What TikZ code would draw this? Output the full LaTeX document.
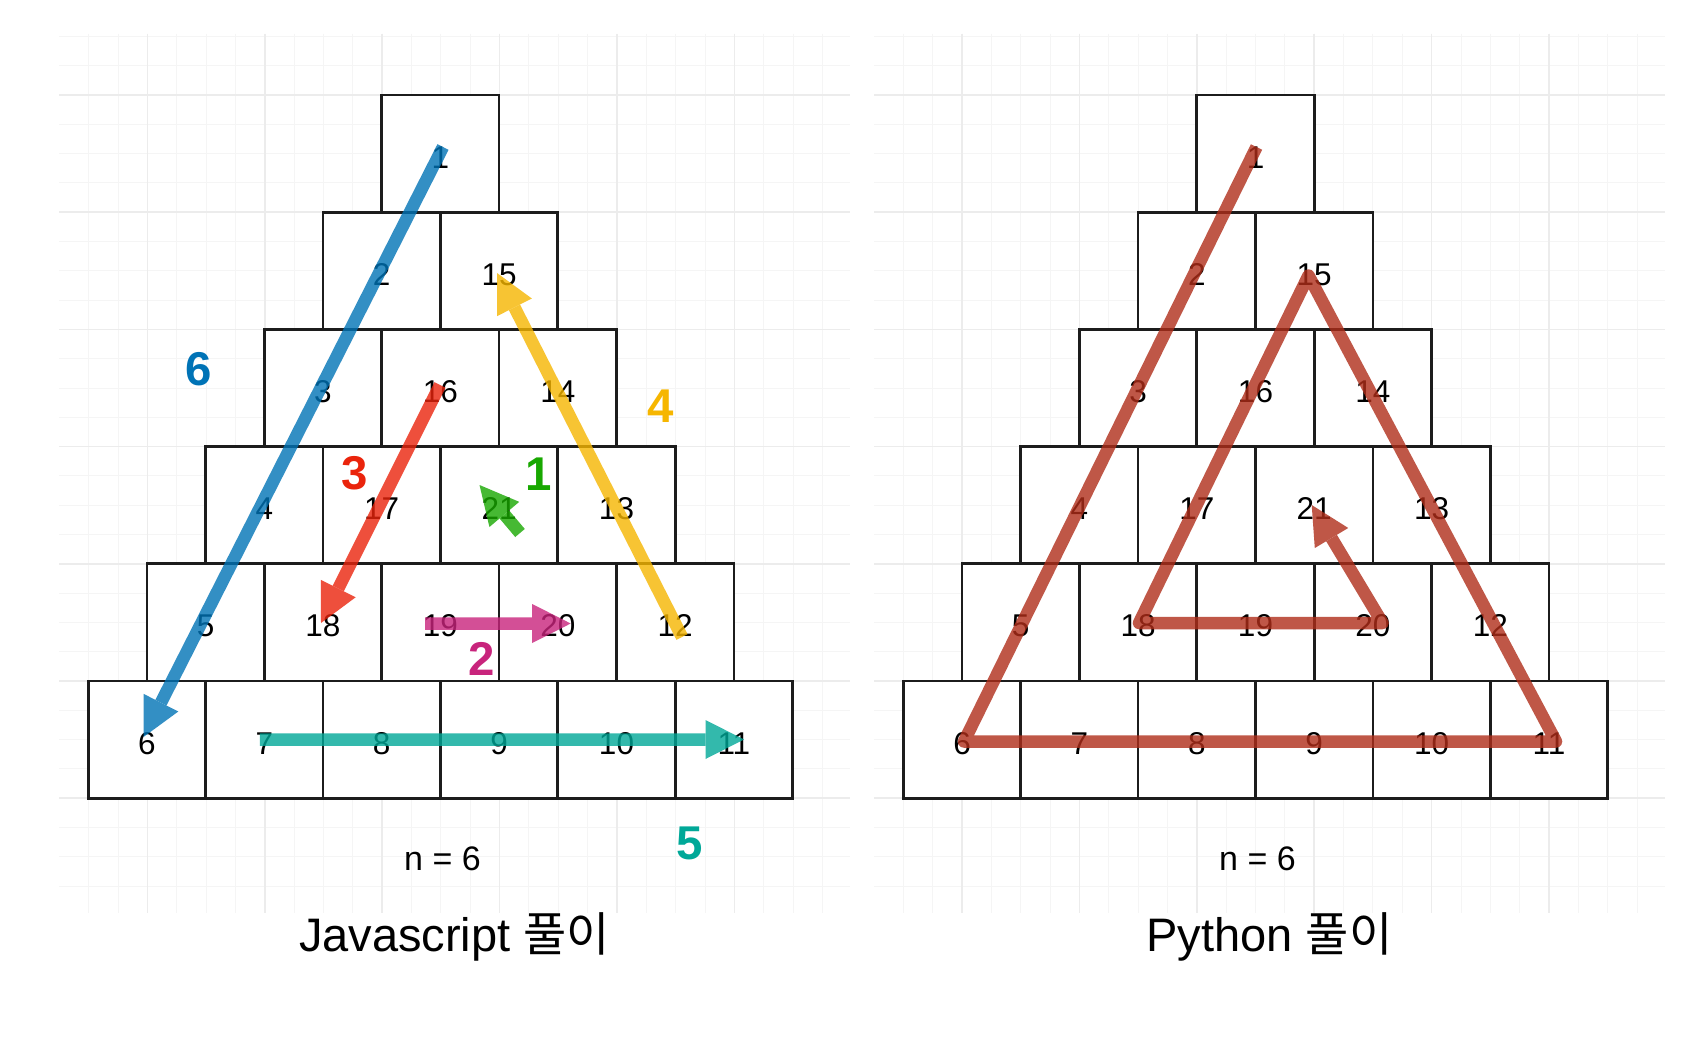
\documentclass[tikz,border=0pt]{standalone}
\usepackage{fontspec}
\setmainfont{Liberation Sans}
\newfontfamily\krfont{Noto Sans CJK KR}
\usetikzlibrary{arrows.meta}
\definecolor{gmaj}{RGB}{236,236,236}
\definecolor{gmin}{RGB}{245,245,245}
\definecolor{tileline}{RGB}{28,28,28}
\definecolor{cblue}{RGB}{0,115,182}
\definecolor{cyellow}{RGB}{246,182,0}
\definecolor{cred}{RGB}{234,36,12}
\definecolor{cgreen}{RGB}{24,168,0}
\definecolor{cmag}{RGB}{200,36,124}
\definecolor{cteal}{RGB}{0,168,152}
\definecolor{cpy}{RGB}{175,45,25}
\tikzset{
  tile/.style={draw=tileline, fill=white, line width=1.35pt, minimum width=58.7pt,
    minimum height=58.6pt, inner sep=0pt, text height=14.5pt, text depth=0pt,
    font=\fontsize{15.75pt}{18pt}\selectfont},
  headtip/.style={-{Triangle[length=19.25pt,width=19.5pt,line width=0pt]}},
  mov/.style={line width=6.25pt, headtip},
  lab/.style={font=\bfseries\fontsize{23.7pt}{28pt}\selectfont, inner sep=0pt},
  capt/.style={font=\fontsize{17pt}{20pt}\selectfont, inner sep=0pt},
  ttl/.style={font=\fontsize{23.5pt}{28pt}\selectfont, inner sep=0pt, anchor=base},
  gridmin/.style={draw=gmin, line width=0.5pt},
  gridmaj/.style={draw=gmaj, line width=0.8pt},
}
\newcommand\pyrdraw[2]{%
  \foreach \r/\lst in {1/{1},2/{2,15},3/{3,16,14},4/{4,17,21,13},5/{5,18,19,20,12},6/{6,7,8,9,10,11}}{
    \foreach \n [count=\i] in \lst {
      \node[tile] (#1\n) at ({#2+(\i-(\r+1)/2)*117.4},{95+(\r-0.5)*117.2}) {\n};
    }
  }
}
\begin{document}
\begin{tikzpicture}[x=0.5pt,y=-0.5pt]
\fill[white] (0,0) rectangle (1708,1048);
% grid panels
\foreach \ox in {0,814.7}{
  \foreach \k in {1,...,26}{
    \draw[gridmin] (59.3+29.35*\k+\ox,34) -- (59.3+29.35*\k+\ox,913);
  }
  \foreach \j in {-2,...,27}{
    \draw[gridmin] (59.3+\ox,95+29.3*\j) -- (850+\ox,95+29.3*\j);
  }
  \foreach \k in {3,7,...,23}{
    \draw[gridmaj] (59.3+29.35*\k+\ox,34) -- (59.3+29.35*\k+\ox,913);
  }
  \foreach \j in {0,4,...,24}{
    \draw[gridmaj] (59.3+\ox,95+29.3*\j) -- (850+\ox,95+29.3*\j);
  }
}
% pyramids
\pyrdraw{L}{440.4}
\pyrdraw{R}{1255.5}
% Javascript arrows
\coordinate (b1) at ([shift={(2.6,-6.6)}]L1.center);
\coordinate (b2) at ([shift={(-3.4,-2.6)}]L6.center);
\coordinate (y1) at ([shift={(6.8,14.6)}]L12.center);
\coordinate (y2) at ([shift={(-2.1,2.2)}]L15.center);
\coordinate (r1) at ([shift={(-0.4,-3)}]L16.center);
\coordinate (r2) at ([shift={(-2,0.6)}]L18.center);
\coordinate (g1) at ([shift={(20.9,27.8)}]L21.center);
\coordinate (g2) at ([shift={(-19.6,-20.2)}]L21.center);
\coordinate (m1) at ([shift={(-15.4,1.1)}]L19.center);
\coordinate (m2) at ([shift={(12.9,1.1)}]L20.center);
\coordinate (t1) at ([shift={(-4.5,-0.1)}]L7.center);
\coordinate (t2) at ([shift={(10.1,-0.1)}]L11.center);
\begin{scope}[transparency group, opacity=0.8]
  \draw[mov, cgreen] (g1) -- (g2);
\end{scope}
\begin{scope}[transparency group, opacity=0.8]
  \draw[mov, cmag] (m1) -- (m2);
\end{scope}
\begin{scope}[transparency group, opacity=0.8]
  \draw[mov, cred] (r1) -- (r2);
\end{scope}
\begin{scope}[transparency group, opacity=0.8]
  \draw[mov, cyellow] (y1) -- (y2);
\end{scope}
\begin{scope}[transparency group, opacity=0.8]
  \draw[mov, cteal] (t1) -- (t2);
\end{scope}
\begin{scope}[transparency group, opacity=0.8]
  \draw[mov, cblue] (b1) -- (b2);
\end{scope}
% Python path
\coordinate (p1) at ([shift={(1,-6.6)}]R1.center);
\coordinate (p6) at ([shift={(2,1.9)}]R6.center);
\coordinate (p11) at ([shift={(7,1.9)}]R11.center);
\coordinate (p15) at ([shift={(-5.7,4.7)}]R15.center);
\coordinate (p18) at ([shift={(0.9,0.6)}]R18.center);
\coordinate (p20) at ([shift={(9.6,0.6)}]R20.center);
\coordinate (p21) at ([shift={(-2.5,-0.2)}]R21.center);
\begin{scope}[transparency group, opacity=0.8]
  \draw[mov, cpy, line join=round] (p1) -- (p6) -- (p11) -- (p15) -- (p18) -- (p20) -- (p21);
\end{scope}
% step labels
\node[lab, text=cgreen] (s1) at (539,474) {1};
\node[lab, text=cmag] (s2) at (481.7,659) {2};
\node[lab, text=cred] (s3) at (354.5,473.5) {3};
\node[lab, text=cyellow] (s4) at (660.5,406.5) {4};
\node[lab, text=cteal] (s5) at (689.5,843.5) {5};
\node[lab, text=cblue] (s6) at (199,369) {6};
% captions
\node[capt] (nL) at (442.5,858.7) {n = 6};
\node[capt] (nR) at (1257.5,858.7) {n = 6};
\node[ttl] (tL) at (454.6,951) {Javascript {\krfont 풀이}};
\node[ttl] (tR) at (1269.5,951) {Python {\krfont 풀이}};
\end{tikzpicture}
\end{document}
